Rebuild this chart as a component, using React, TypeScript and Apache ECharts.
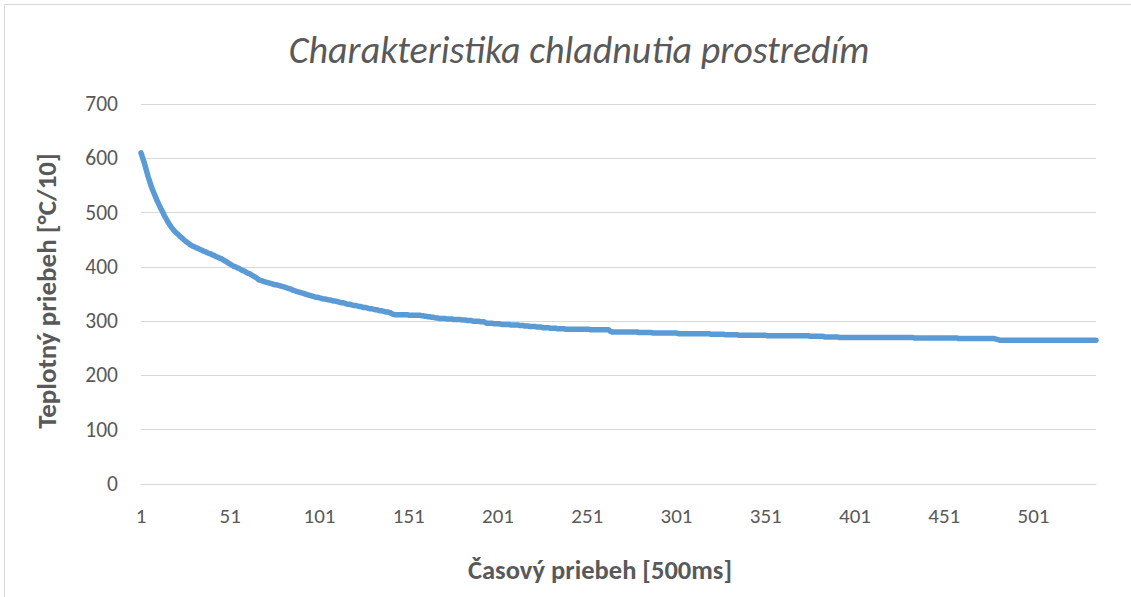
import React, { useEffect, useRef } from "react";
import * as echarts from "echarts";

// Chart texts
const chartTitle = "Charakteristika chladnutia prostredím";
const xAxisTitle = "Časový priebeh [500ms]";
const yAxisTitle = "Teplotný priebeh [°C/10]";

// Y axis ticks
const yTicks = [0, 100, 200, 300, 400, 500, 600, 700];

// Temperature readings (°C/10): [value, number of consecutive samples]
const temperatureRuns: [number, number][] = [
  [610, 1], [600, 1], [590, 1], [578, 1], [566, 1], [556, 1], [546, 1], [538, 1], [530, 1], [522, 1],
  [515, 1], [508, 1], [502, 1], [495, 1], [489, 1], [483, 1], [478, 1], [473, 1], [469, 1], [465, 1],
  [462, 1], [459, 1], [456, 1], [453, 1], [450, 1], [447, 1], [445, 1], [442, 1], [440, 1],
  [438, 1], [437, 1], [435, 1], [434, 1], [432, 1], [431, 1], [429, 1], [428, 1], [426, 1], [425, 1],
  [424, 1], [422, 1], [421, 1], [419, 1], [418, 1], [416, 1], [415, 1], [413, 1],
  [411, 1], [409, 1], [407, 1], [405, 1], [403, 1], [401, 1], [400, 1],
  [398, 1], [397, 1], [395, 1], [393, 1], [392, 1], [390, 1], [388, 1], [387, 1], [385, 1],
  [383, 1], [381, 1], [379, 1], [376, 1],
  [375, 1], [374, 1], [373, 1], [372, 1], [371, 1], [370, 1], [369, 1], [368, 1], [367, 2],
  [366, 1], [365, 1], [364, 1], [363, 1], [362, 1], [361, 1], [360, 1], [359, 1], [357, 1],
  [356, 1], [355, 1], [354, 1], [353, 1], [352, 1], [351, 1], [350, 1], [349, 1], [348, 1], [347, 1], [346, 1], [345, 1],
  [344, 2], [343, 1], [342, 1], [341, 2], [340, 1],
  [339, 2], [338, 1], [337, 2], [336, 1], [335, 1], [334, 2], [333, 1], [332, 1], [331, 2], [330, 1], [329, 2], [328, 1],
  [327, 2], [326, 1], [325, 2], [324, 1], [323, 2], [322, 1], [321, 2], [320, 1], [319, 2], [318, 1], [317, 2],
  [316, 1], [315, 1], [313, 1], [312, 2],
  [312, 6], [311, 7],
  [310, 2], [309, 2], [308, 2], [307, 2], [306, 2], [305, 2],
  [305, 2], [304, 4], [303, 5],
  [302, 3], [301, 3], [300, 4], [299, 3],
  [297, 1], [296, 3],
  [296, 1], [295, 4], [294, 5], [293, 5],
  [292, 3], [291, 3], [290, 4], [289, 3],
  [288, 4], [287, 4], [286, 5], [285, 2],
  [285, 12], [284, 11],
  [281, 1], [280, 15],
  [279, 8], [278, 9],
  [278, 5], [277, 10],
  [277, 8], [276, 8], [275, 8],
  [274, 16], [273, 16],
  [273, 8], [272, 8], [271, 8],
  [270, 22],
  [270, 20], [269, 25], [268, 21],
  [267, 1], [266, 1], [265, 2],
  [265, 53],
];

const FONT = "Carlito, Calibri, Lato, 'Open Sans', sans-serif";
const TEXT_COLOR = "#595959";
const GRID_COLOR = "#d9d9d9";
const LINE_COLOR = "#5b9bd5";

export default function App() {
  const ref = useRef<HTMLDivElement>(null);

  useEffect(() => {
    if (!ref.current) return;
    const chart = echarts.init(ref.current, undefined, { renderer: "svg" });

    const values: number[] = [];
    temperatureRuns.forEach(([v, n]) => {
      for (let k = 0; k < n; k++) values.push(v);
    });
    const categories = values.map((_, i) => String(i + 1));

    chart.setOption({
      animation: false,
      backgroundColor: "#ffffff",
      title: {
        text: chartTitle,
        left: 574,
        top: 26,
        textAlign: "center",
        textStyle: {
          fontFamily: FONT,
          fontSize: 38,
          fontStyle: "italic",
          fontWeight: "normal",
          color: TEXT_COLOR,
        },
      },
      graphic: [
        {
          type: "rect",
          shape: { x: 4.5, y: 4.5, width: 1140, height: 620 },
          style: { fill: "none", stroke: GRID_COLOR, lineWidth: 1 },
          silent: true,
        },
      ],
      grid: { left: 141, right: 35, top: 104, bottom: 113 },
      xAxis: {
        type: "category",
        data: categories,
        boundaryGap: false,
        axisLine: { show: true, lineStyle: { color: GRID_COLOR, width: 1 } },
        axisTick: { show: false },
        axisLabel: {
          interval: 49,
          margin: 21,
          color: TEXT_COLOR,
          fontFamily: FONT,
          fontSize: 21,
        },
        splitLine: { show: false },
        name: xAxisTitle,
        nameLocation: "middle",
        nameGap: 72,
        nameTextStyle: {
          fontFamily: FONT,
          fontSize: 26.5,
          fontWeight: "bold",
          color: TEXT_COLOR,
          padding: [0, 37, 0, 0],
        },
      },
      yAxis: {
        type: "value",
        min: yTicks[0],
        max: yTicks[yTicks.length - 1],
        interval: 100,
        axisLine: { show: false },
        axisTick: { show: false },
        axisLabel: {
          margin: 23,
          color: TEXT_COLOR,
          fontFamily: FONT,
          fontSize: 21.5,
        },
        splitLine: { show: true, lineStyle: { color: GRID_COLOR, width: 1 } },
        name: yAxisTitle,
        nameLocation: "middle",
        nameGap: 81,
        nameTextStyle: {
          fontFamily: FONT,
          fontSize: 27,
          fontWeight: "bold",
          color: TEXT_COLOR,
          padding: [0, 0, 0, 6],
        },
      },
      series: [
        {
          type: "line",
          data: values,
          showSymbol: false,
          smooth: false,
          lineStyle: { color: LINE_COLOR, width: 5.5, cap: "round", join: "round" },
          itemStyle: { color: LINE_COLOR },
        },
      ],
    });

    return () => chart.dispose();
  }, []);

  return (
    <div
      ref={ref}
      style={{ position: "absolute", left: 0, top: 0, width: 1131, height: 597 }}
    />
  );
}
